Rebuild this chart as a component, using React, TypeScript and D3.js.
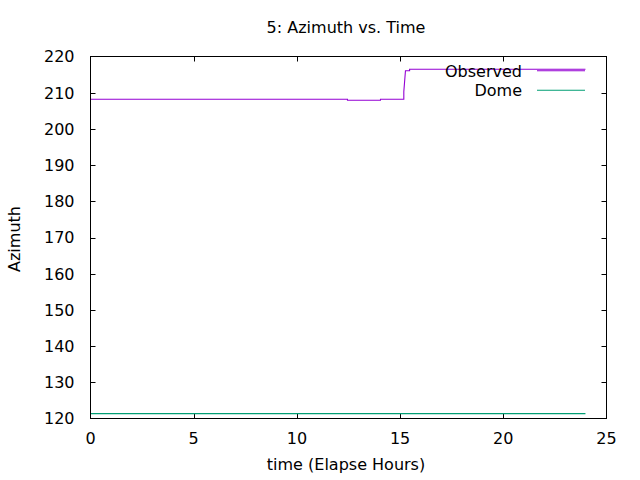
import React, { useEffect, useRef } from 'react';
import * as d3 from 'd3';

// observed azimuth trace (hours, degrees)
const observedHours = [0, 12.45, 12.45, 14.05, 14.05, 15.18, 15.18, 15.26, 15.26, 15.46, 15.46, 23.98];
const observedAz = [208.2, 208.2, 207.92, 207.92, 208.2, 208.2, 210.3, 216.08, 216.08, 216.08, 216.47, 216.47];

// dome azimuth
const domeHours = [0, 23.98];
const domeAz = [121.35, 121.35];

const xTicks = [0, 5, 10, 15, 20, 25];
const yTicks = [120, 130, 140, 150, 160, 170, 180, 190, 200, 210, 220];

const seriesNames = ['Observed', 'Dome'];
const seriesColors = ['#9400d3', '#009e73'];

const App: React.FC = () => {
  const svgRef = useRef<SVGSVGElement>(null);

  useEffect(() => {
    if (!svgRef.current) return;
    const svg = d3.select(svgRef.current);
    svg.selectAll('*').remove();

    const left = 90.5, right = 606.5, top = 56.5, bottom = 418.5;
    const font = '"DejaVu Sans", sans-serif';
    const fs = '16px';
    const tick = 5;

    const x = d3.scaleLinear().domain([0, 25]).range([left, right]);
    const y = d3.scaleLinear().domain([120, 220]).range([bottom, top]);

    // ticks (inward, mirrored)
    const g = svg.append('g').attr('stroke', '#000').attr('stroke-width', 1);
    xTicks.forEach(t => {
      const px = Math.round(x(t)) + 0.5;
      if (t > 0 && t < 25) {
        g.append('line').attr('x1', px).attr('x2', px).attr('y1', bottom).attr('y2', bottom - tick);
        g.append('line').attr('x1', px).attr('x2', px).attr('y1', top).attr('y2', top + tick);
      }
    });
    yTicks.forEach(t => {
      const py = Math.round(y(t)) + 0.5;
      if (t > 120 && t < 220) {
        g.append('line').attr('x1', left).attr('x2', left + tick).attr('y1', py).attr('y2', py);
        g.append('line').attr('x1', right).attr('x2', right - tick).attr('y1', py).attr('y2', py);
      }
    });

    // tick labels
    svg.append('g')
      .selectAll('text')
      .data(xTicks)
      .enter()
      .append('text')
      .attr('x', d => x(d))
      .attr('y', 444)
      .attr('text-anchor', 'middle')
      .style('font-family', font)
      .style('font-size', fs)
      .attr('fill', '#000')
      .text(d => String(d));

    svg.append('g')
      .selectAll('text')
      .data(yTicks)
      .enter()
      .append('text')
      .attr('x', 74.5)
      .attr('y', d => y(d) + 5.8)
      .attr('text-anchor', 'end')
      .style('font-family', font)
      .style('font-size', fs)
      .attr('fill', '#000')
      .text(d => String(d));

    // series
    const line = d3.line<[number, number]>()
      .x(d => x(d[0]))
      .y(d => y(d[1]));

    const obs: [number, number][] = observedHours.map((h, i) => [h, observedAz[i]]);
    const dome: [number, number][] = domeHours.map((h, i) => [h, domeAz[i]]);

    svg.append('path')
      .datum(obs)
      .attr('fill', 'none')
      .attr('stroke', seriesColors[0])
      .attr('stroke-width', 1.1)
      .attr('d', line);

    svg.append('path')
      .datum(dome)
      .attr('fill', 'none')
      .attr('stroke', seriesColors[1])
      .attr('stroke-width', 1.1)
      .attr('d', line);

    // legend
    const legendY = [70.7, 90.3];
    seriesNames.forEach((name, i) => {
      svg.append('text')
        .attr('x', 522)
        .attr('y', legendY[i] + 5.8)
        .attr('text-anchor', 'end')
        .style('font-family', font)
        .style('font-size', fs)
        .attr('fill', '#000')
        .text(name);
      svg.append('line')
        .attr('x1', 537)
        .attr('x2', 585)
        .attr('y1', legendY[i])
        .attr('y2', legendY[i])
        .attr('stroke', seriesColors[i])
        .attr('stroke-width', 1.1);
    });

    // border
    svg.append('rect')
      .attr('x', left)
      .attr('y', top)
      .attr('width', right - left)
      .attr('height', bottom - top)
      .attr('fill', 'none')
      .attr('stroke', '#000')
      .attr('stroke-width', 1);

    // title and axis labels
    svg.append('text')
      .attr('x', 346)
      .attr('y', 33)
      .attr('text-anchor', 'middle')
      .style('font-family', font)
      .style('font-size', fs)
      .attr('fill', '#000')
      .text('5: Azimuth vs. Time');

    svg.append('text')
      .attr('x', 346)
      .attr('y', 469.5)
      .attr('text-anchor', 'middle')
      .style('font-family', font)
      .style('font-size', fs)
      .attr('fill', '#000')
      .text('time (Elapse Hours)');

    svg.append('text')
      .attr('transform', 'translate(19.5,239) rotate(-90)')
      .attr('text-anchor', 'middle')
      .style('font-family', font)
      .style('font-size', fs)
      .attr('fill', '#000')
      .text('Azimuth');
  }, []);

  return (
    <svg
      ref={svgRef}
      width={640}
      height={480}
      style={{ position: 'absolute', left: 0, top: 0, background: '#fff' }}
    />
  );
};

export default App;
